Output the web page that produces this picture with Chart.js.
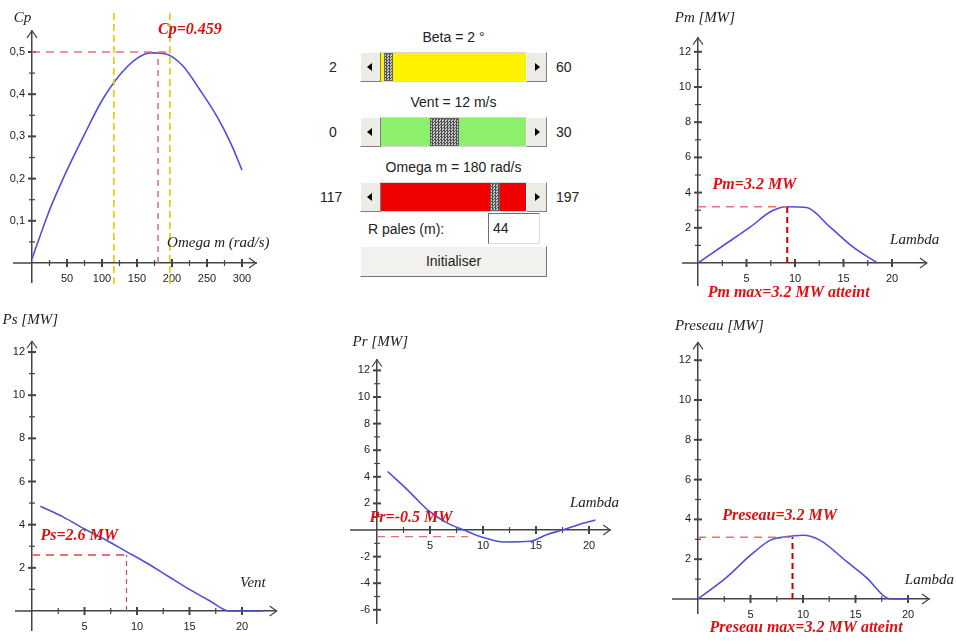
<!DOCTYPE html>
<html>
<head>
<meta charset="utf-8">
<title>Eolienne</title>
<script src="https://cdn.jsdelivr.net/npm/chart.js@4.4.1/dist/chart.umd.min.js"></script>
<style>
  body { margin:0; width:956px; height:644px; background:#fff; position:relative; overflow:hidden;
         font-family:"Liberation Sans", Arial, sans-serif; color:#222; }
  canvas { position:absolute; }
  .cap { position:absolute; left:360px; width:187px; text-align:center; font-size:14px; line-height:18px; }
  .lbl { position:absolute; font-size:14px; line-height:18px; }
  .sb { position:absolute; left:360px; width:187px; height:30px; background:#d8d6d0; box-sizing:border-box; }
  .sb .b { position:absolute; top:0; width:21px; height:30px; background:#ecebe6; box-sizing:border-box;
           border:1px solid; border-color:#fff #808080 #808080 #fff; }
  .sb .b.l { left:0; } .sb .b.r { right:0; }
  .sb .b::after { content:''; position:absolute; top:10px; border-top:4px solid transparent; border-bottom:4px solid transparent; }
  .sb .b.l::after { left:6px; border-right:5px solid #000; }
  .sb .b.r::after { left:8px; border-left:5px solid #000; }
  .sb .tr { position:absolute; left:21px; right:21px; top:1px; bottom:1px; }
  .sb .th { position:absolute; top:0; bottom:0; box-sizing:border-box; border:1px solid #666;
            background:repeating-conic-gradient(#505050 0 25%, #c8c8c8 0 50%) 0 0/3px 3px; }
  .field { position:absolute; left:488px; top:213px; width:52px; height:31px; background:#fff; box-sizing:border-box;
           border:1px solid; border-color:#707070 #ddd #ddd #707070; font-size:14px; line-height:29px; padding-left:4px; }
  .btn { position:absolute; left:360px; top:246px; width:187px; height:31px; background:#f2f1ee; box-sizing:border-box;
         border:1px solid; border-color:#fff #777 #777 #fff; text-align:center; font-size:14px; line-height:29px; }
</style>
</head>
<body>

<canvas id="cpChart"></canvas>
<canvas id="pmChart"></canvas>
<canvas id="psChart"></canvas>
<canvas id="prChart"></canvas>
<canvas id="preseauChart"></canvas>

<div id="panel"></div>

<script>
// ---------- data ----------
// Cp = f(Omega m)
const cpOmega  = [0, 25, 50, 75, 100, 125, 150, 170, 190, 215, 240, 265, 285, 300];
const cpValues = [0.01, 0.125, 0.22, 0.305, 0.385, 0.445, 0.485, 0.498, 0.496, 0.468, 0.41, 0.345, 0.28, 0.22];
const omegaLimits = [117, 197];   // plage Omega m (lignes jaunes)
const omegaM = 180;
const cpMax = 0.5;

// Pm = f(Lambda)
const pmLambda = [0, 2.5, 5.4, 7.6, 9.2, 11.2, 13.6, 16, 18.5];
const pmValues = [0, 0.95, 2.05, 2.95, 3.2, 3.15, 2.05, 0.9, 0];
const pmOpt = { lambda: 9.2, p: 3.2 };

// Ps = f(Vent)
const psVent   = [0.8, 3, 5, 7, 9, 11, 13, 15, 17, 18.8, 20, 22];
const psValues = [4.85, 4.35, 3.8, 3.3, 2.75, 2.2, 1.6, 1.0, 0.45, 0, 0, 0];
const psOpt = { vent: 9, p: 2.6 };

// Pr = f(Lambda)
const prLambda = [1, 2.9, 4.8, 6.7, 8.2, 9.8, 12, 14.5, 16, 17.5, 19, 20.6];
const prValues = [4.4, 3.0, 1.5, 0.5, 0, -0.5, -0.9, -0.85, -0.35, 0, 0.4, 0.75];
const prOpt = { lambda: 8.6, p: -0.5 };

// Preseau = f(Lambda)
const preseauLambda = [0, 2.75, 5, 6.9, 8.3, 10, 11.6, 14.2, 16.1, 17.6, 18.3, 20];
const preseauValues = [0, 1.1, 2.2, 2.96, 3.12, 3.2, 2.96, 1.86, 1.05, 0.2, 0, 0];
const preseauOpt = { lambda: 9, p: 3.1 };

// graduations
const cpXMajor = [50, 100, 150, 200, 250, 300];
const cpXMinor = [25, 75, 125, 175, 225, 275];
const cpYMajor = [0.1, 0.2, 0.3, 0.4, 0.5];
const cpYMinor = [0.05, 0.15, 0.25, 0.35, 0.45];
const lambdaMajor = [5, 10, 15, 20];
const lambdaMinor = [2.5, 7.5, 12.5, 17.5];
const powerMajor = [2, 4, 6, 8, 10, 12];
const powerMinor = [1, 3, 5, 7, 9, 11];
const prYMajor = [-6, -4, -2, 2, 4, 6, 8, 10, 12];
const prYMinor = [-5, -3, -1, 1, 3, 5, 7, 9, 11];

// réglages (curseurs)
const sliders = [
  { caption: 'Beta = 2 °',          min: 2,   max: 60,  value: 2,   visible: 0.06, color: '#fff200', top: 52 },
  { caption: 'Vent = 12 m/s',       min: 0,   max: 30,  value: 12,  visible: 0.2,  color: '#8cf06c', top: 117 },
  { caption: 'Omega m = 180 rad/s', min: 117, max: 197, value: 180, visible: 0.07, color: '#f00000', top: 182 }
];
const rPales = 44;

// ---------- styles ----------
const curveColor = '#4f4fdc';
const redLight = '#e87070';
const redDark = '#c00000';
const titleFont = 'italic 15px "Liberation Serif", serif';
const redFont = 'italic bold 16px "Liberation Serif", serif';

Chart.defaults.font.family = '"Liberation Sans", Arial, sans-serif';
Chart.defaults.font.size = 11;
Chart.defaults.color = '#222';

// ticks croisés + flèches des axes
const axisDeco = {
  id: 'axisDeco',
  beforeDatasetsDraw(chart) {
    const { ctx, chartArea, scales: { x, y } } = chart;
    const x0 = x.getPixelForValue(0), y0 = y.getPixelForValue(0);
    const tail = chart.$tail || 0;
    ctx.save();
    ctx.strokeStyle = '#444';
    const seg = (a, b, c, d, w) => { ctx.lineWidth = w; ctx.beginPath(); ctx.moveTo(a, b); ctx.lineTo(c, d); ctx.stroke(); };
    seg(x0 - tail, y0, x0, y0, 1.5);
    x.ticks.forEach(t => {
      const p = x.getPixelForValue(t.value), h = t.label ? 4 : 3;
      seg(p, y0 - h, p, y0 + h, t.label ? 2 : 1.2);
    });
    y.ticks.forEach(t => {
      const p = y.getPixelForValue(t.value), h = t.label ? 4 : 3;
      seg(x0 - h, p, x0 + h, p, t.label ? 2 : 1.2);
    });
    ctx.lineWidth = 1.2;
    ctx.beginPath();
    ctx.moveTo(x0 - 5, chartArea.top + 7); ctx.lineTo(x0, chartArea.top); ctx.lineTo(x0 + 5, chartArea.top + 7);
    ctx.moveTo(chartArea.right - 7, y0 - 5); ctx.lineTo(chartArea.right, y0); ctx.lineTo(chartArea.right - 7, y0 + 5);
    ctx.stroke();
    ctx.restore();
  }
};

function notesPlugin(notes) {
  return {
    id: 'notes',
    afterDatasetsDraw(chart) {
      const { ctx, scales: { x, y } } = chart;
      ctx.save();
      ctx.textAlign = 'left';
      ctx.textBaseline = 'middle';
      notes.forEach(n => {
        ctx.font = n.red ? redFont : titleFont;
        ctx.fillStyle = n.red ? '#e01010' : '#222';
        ctx.fillText(n.text, x.getPixelForValue(n.x), y.getPixelForValue(n.y));
      });
      ctx.restore();
    }
  };
}

const pts = (xs, ys) => xs.map((v, i) => ({ x: v, y: ys[i] }));

function curve(xs, ys) {
  return { data: pts(xs, ys), borderColor: curveColor, borderWidth: 1.6, pointRadius: 0,
           cubicInterpolationMode: 'monotone', fill: false };
}

function dashed(data, color, width, dash, noClip) {
  return { data, borderColor: color, borderWidth: width, borderDash: dash, pointRadius: 0,
           tension: 0, fill: false, clip: noClip ? false : undefined };
}

function makePlot(id, g, xMajor, xMinor, yMajor, yMinor, datasets, notes, fmtY) {
  const cv = document.getElementById(id);
  cv.width = g.w; cv.height = g.h;
  cv.style.left = g.left + 'px';
  cv.style.top = g.top + 'px';
  // the y scale box fills everything left of the axis, so its labels are not clipped
  const yBoxWidth = g.ox - g.left;
  const padding = {
    left: 0,
    right: g.left + g.w - (g.ox + g.xMax * g.kx),
    top: g.oy - g.yMax * g.ky - g.top,
    bottom: g.top + g.h - (g.oy - g.yMin * g.ky)
  };
  const all = (a, b) => a.concat(b).sort((p, q) => p - q).map(v => ({ value: v }));
  const chart = new Chart(cv, {
    type: 'line',
    data: { datasets },
    options: {
      responsive: false,
      animation: false,
      events: [],
      layout: { padding },
      plugins: { legend: { display: false }, tooltip: { enabled: false } },
      scales: {
        x: {
          type: 'linear', position: { y: 0 }, min: 0, max: g.xMax,
          afterFit: s => { s.height = 0; },
          afterBuildTicks: s => { s.ticks = all(xMajor, xMinor); },
          grid: { display: false, drawTicks: false },
          border: { color: '#444', width: 1.5 },
          ticks: { autoSkip: false, maxRotation: 0, padding: 9,
                   callback: v => xMajor.includes(v) ? String(v) : '' }
        },
        y: {
          type: 'linear', position: 'left', min: g.yMin, max: g.yMax,
          afterFit: s => { s.width = yBoxWidth; },
          afterBuildTicks: s => { s.ticks = all(yMajor, yMinor); },
          grid: { display: false, drawTicks: false },
          border: { color: '#444', width: 1.5 },
          ticks: { autoSkip: false, padding: 7,
                   callback: v => yMajor.includes(v) ? (fmtY ? fmtY(v) : String(v)) : '' }
        }
      }
    },
    plugins: [axisDeco, notesPlugin(notes)]
  });
  chart.$tail = g.tail;
  chart.draw();
  return chart;
}

// ---------- Cp(Omega) ----------
makePlot('cpChart',
  { left: 0, top: 0, w: 300, h: 300, ox: 32, oy: 263, kx: 0.7, ky: 422, xMax: 320, yMin: -0.047, yMax: 0.55, tail: 19 },
  cpXMajor, cpXMinor, cpYMajor, cpYMinor,
  [
    dashed([{ x: omegaLimits[0], y: -0.05 }, { x: omegaLimits[0], y: 0.595 }], '#e8c800', 1.6, [7, 4], true),
    dashed([{ x: omegaLimits[1], y: -0.05 }, { x: omegaLimits[1], y: 0.595 }], '#e8c800', 1.6, [7, 4], true),
    dashed([{ x: 0, y: cpMax }, { x: omegaLimits[1], y: cpMax }], redLight, 1.4, [8, 6]),
    dashed([{ x: omegaM, y: 0 }, { x: omegaM, y: cpMax }], '#d06090', 1.4, [6, 5]),
    curve(cpOmega, cpValues)
  ],
  [
    { text: 'Cp', x: -26, y: 0.58 },
    { text: 'Cp=0.459', x: 180, y: 0.552, red: true },
    { text: 'Omega m (rad/s)', x: 193, y: 0.047 }
  ],
  v => v.toFixed(1).replace('.', ',')
);

// ---------- Pm(Lambda) ----------
makePlot('pmChart',
  { left: 650, top: 0, w: 306, h: 305, ox: 698, oy: 263, kx: 9.7, ky: 17.6, xMax: 23.6, yMin: -1.25, yMax: 12.8, tail: 16 },
  lambdaMajor, lambdaMinor, powerMajor, powerMinor,
  [
    dashed([{ x: 0, y: pmOpt.p }, { x: pmOpt.lambda, y: pmOpt.p }], redLight, 1.4, [8, 6]),
    dashed([{ x: pmOpt.lambda, y: 0 }, { x: pmOpt.lambda, y: pmOpt.p }], redDark, 2, [6, 4]),
    curve(pmLambda, pmValues)
  ],
  [
    { text: 'Pm [MW]', x: -2.4, y: 13.9 },
    { text: 'Pm=3.2 MW', x: 1.5, y: 4.45, red: true },
    { text: 'Lambda', x: 19.8, y: 1.3 },
    { text: 'Pm max=3.2 MW atteint', x: 1.0, y: -1.7, red: true }
  ]
);

// ---------- Ps(Vent) ----------
makePlot('psChart',
  { left: 0, top: 300, w: 300, h: 344, ox: 32, oy: 615, kx: 10.5, ky: 21.9, xMax: 23.3, yMin: -0.9, yMax: 12.5, tail: 17 },
  lambdaMajor, lambdaMinor, powerMajor, powerMinor,
  [
    dashed([{ x: 0, y: psOpt.p }, { x: psOpt.vent, y: psOpt.p }], redLight, 2, [8, 6]),
    dashed([{ x: psOpt.vent, y: 0 }, { x: psOpt.vent, y: psOpt.p }], '#d05050', 1.2, [5, 4]),
    curve(psVent, psValues)
  ],
  [
    { text: 'Ps [MW]', x: -2.8, y: 13.5 },
    { text: 'Ps=2.6 MW', x: 0.8, y: 3.5, red: true },
    { text: 'Vent', x: 19.8, y: 1.3 }
  ]
);

// ---------- Pr(Lambda) ----------
makePlot('prChart',
  { left: 320, top: 310, w: 330, h: 334, ox: 377, oy: 530, kx: 10.6, ky: 13.3, xMax: 22, yMin: -7, yMax: 12.8, tail: 27 },
  lambdaMajor, lambdaMinor, prYMajor, prYMinor,
  [
    dashed([{ x: 0, y: prOpt.p }, { x: prOpt.lambda, y: prOpt.p }], redLight, 1.4, [8, 6]),
    curve(prLambda, prValues)
  ],
  [
    { text: 'Pr [MW]', x: -2.3, y: 14.1 },
    { text: 'Pr=-0.5 MW', x: -0.7, y: 0.9, red: true },
    { text: 'Lambda', x: 18.2, y: 2.0 }
  ]
);

// ---------- Preseau(Lambda) ----------
makePlot('preseauChart',
  { left: 650, top: 305, w: 306, h: 339, ox: 698, oy: 599, kx: 10.5, ky: 19.9, xMax: 22, yMin: -0.75, yMax: 12.9, tail: 26 },
  lambdaMajor, lambdaMinor, powerMajor, powerMinor,
  [
    dashed([{ x: 0, y: preseauOpt.p }, { x: preseauOpt.lambda, y: preseauOpt.p }], redLight, 1.4, [8, 6]),
    dashed([{ x: preseauOpt.lambda, y: 0 }, { x: preseauOpt.lambda, y: preseauOpt.p }], redDark, 2, [6, 4]),
    curve(preseauLambda, preseauValues)
  ],
  [
    { text: 'Preseau [MW]', x: -2.2, y: 13.7 },
    { text: 'Preseau=3.2 MW', x: 2.3, y: 4.2, red: true },
    { text: 'Lambda', x: 19.7, y: 0.95 },
    { text: 'Preseau max=3.2 MW atteint', x: 1.1, y: -1.46, red: true }
  ]
);

// ---------- panneau de réglage ----------
const panel = document.getElementById('panel');
let html = '';
sliders.forEach(s => {
  const trackW = 145;
  const thumbW = Math.round(trackW * s.visible);
  const pos = Math.round((s.value - s.min) / (s.max - s.min) * (trackW - thumbW));
  html += `<div class="cap" style="top:${s.top - 24}px">${s.caption}</div>`;
  html += `<div class="lbl" style="left:${s.min > 99 ? 320 : 329}px;top:${s.top + 6}px">${s.min}</div>`;
  html += `<div class="sb" style="top:${s.top}px"><div class="b l"></div>` +
          `<div class="tr" style="background:${s.color}"><div class="th" style="left:${pos + 3}px;width:${thumbW}px"></div></div>` +
          `<div class="b r"></div></div>`;
  html += `<div class="lbl" style="left:556px;top:${s.top + 6}px">${s.max}</div>`;
});
html += `<div class="lbl" style="left:368px;top:220px">R pales (m):</div>`;
html += `<div class="field">${rPales}</div>`;
html += `<div class="btn">Initialiser</div>`;
panel.innerHTML = html;
</script>
</body>
</html>
